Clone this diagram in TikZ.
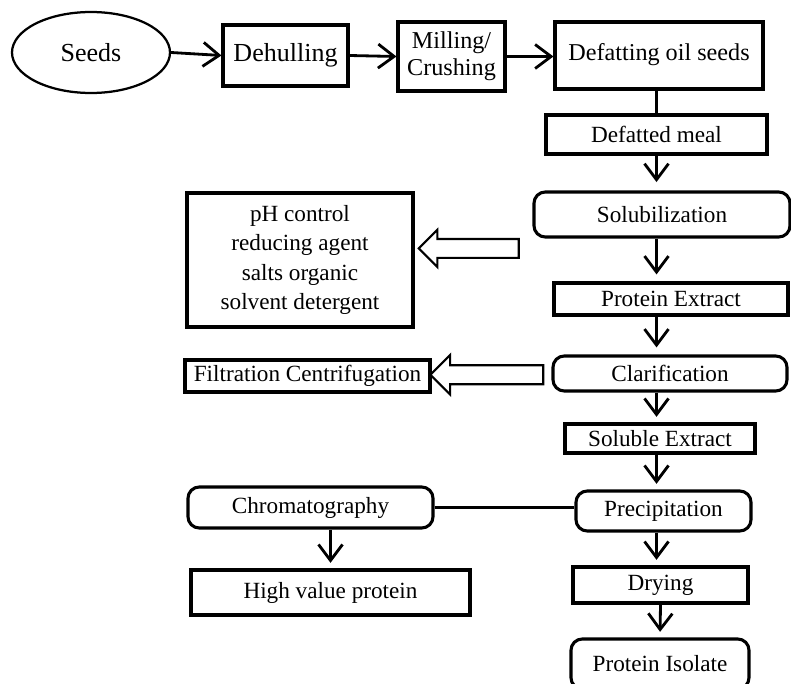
\documentclass[tikz,border=0pt]{standalone}
\usepackage{fontspec}
\setmainfont{Liberation Serif}
\usetikzlibrary{arrows.meta,positioning,shapes.geometric,shapes.arrows,calc}

\begin{document}
\begin{tikzpicture}[
  box/.style={draw, line width=2.2pt, inner sep=2pt, align=center, font=\fontsize{16.5}{21}\selectfont},
  rbox/.style={box, rounded corners=8pt},
  bigtext/.style={font=\fontsize{18.5}{20}\selectfont},
  flow/.style={-{Straight Barb[length=0.4cm,width=0.6cm]}, line width=2pt},
  hollow/.style={draw, line width=1.5pt, single arrow, shape border rotate=180, inner xsep=0pt}
]
  \useasboundingbox (0,0) rectangle (19.775,17.075);

  % Top row
  \node[box, bigtext, ellipse, line width=1.6pt, minimum width=3.95cm, minimum height=2.025cm] (seeds) at (2.275,15.7625) {Seeds};
  \node[box, bigtext, minimum width=3.125cm, minimum height=1.525cm] (dehull) at (7.1375,15.6875) {Dehulling};
  \node[box, font=\fontsize{17.2}{19}\selectfont, minimum width=2.675cm, minimum height=1.725cm] (mill) at (11.2875,15.6625) {Milling/\\Crushing};
  \node[box, font=\fontsize{17.2}{19}\selectfont, minimum width=5.2cm, minimum height=1.675cm] (defat) at (16.475,15.6875) {\raisebox{5pt}{Defatting oil seeds}};

  \draw[flow] (seeds.east) -- (dehull.west);
  \draw[flow] (dehull.east) -- (mill.west);
  \draw[flow] (mill.east) -- (defat.west |- mill.east);

  % Main column
  \node[box, minimum width=5.525cm, minimum height=0.975cm] (meal) at (16.4125,13.7125) {Defatted meal};
  \coordinate (spine) at (meal.south);
  \node[rbox, minimum width=6.4cm, minimum height=1.125cm] (solub) at (16.55,11.7125) {Solubilization};
  \node[box, minimum width=5.85cm, minimum height=0.8cm] (extract) at (16.775,9.6) {Protein Extract};
  \node[rbox, minimum width=5.85cm, minimum height=0.875cm] (clarif) at (16.75,7.7375) {Clarification};
  \node[box, minimum width=4.75cm, minimum height=0.725cm] (soluble) at (16.5,6.1125) {Soluble Extract};
  \node[rbox, minimum width=4.375cm, minimum height=1.0cm] (precip) at (16.5875,4.3) {Precipitation};
  \node[box, minimum width=4.375cm, minimum height=0.9cm] (drying) at (16.5125,2.45) {Drying};
  \node[rbox, minimum width=4.45cm, minimum height=1.25cm] (isolate) at (16.5,0.475) {Protein Isolate};

  \draw[line width=2pt] (defat.south -| spine) -- (meal.north -| spine);
  \draw[flow, shorten >=6pt] (meal.south) -- (solub.north -| spine);
  \draw[flow, shorten >=5pt] (solub.south -| spine) -- (extract.north -| spine);
  \draw[flow, shorten >=5pt] (extract.south -| spine) -- (clarif.north -| spine);
  \draw[flow, shorten >=4pt] (clarif.south -| spine) -- (soluble.north -| spine);
  \draw[flow, shorten >=4pt] (soluble.south -| spine) -- (precip.north -| spine);
  \draw[flow, shorten >=4pt] (precip.south -| spine) -- (drying.north -| spine);
  \draw[flow, shorten >=4pt] (drying.south) -- (isolate.north);

  % Side boxes
  \node[box, minimum width=5.65cm, minimum height=3.35cm] (ph) at (7.5,10.575) {pH control\\reducing agent\\salts organic\\solvent detergent};
  \node[box, minimum width=6.125cm, minimum height=0.8cm] (filt) at (7.6875,7.675) {Filtration Centrifugation};
  \node[rbox, minimum width=6.125cm, minimum height=1.025cm] (chrom) at (7.7625,4.3875) {Chromatography};
  \node[box, minimum width=6.975cm, minimum height=1.125cm] (hvp) at (8.2625,2.2625) {High value protein};

  % Hollow arrows
  \node[hollow, minimum height=2.5cm, inner ysep=0.21cm, single arrow head extend=0.23cm] (hol1) at ($(ph.east)!0.5!(solub.west)+(0,-0.28)$) {};
  \node[hollow, minimum height=2.825cm, inner ysep=0.21cm, single arrow head extend=0.26cm] (hol2) at ($(filt.east)!0.5!(clarif.west)$) {};

  \draw[line width=1.8pt] (chrom.east) -- (chrom.east -| precip.west);
  \draw[flow, shorten >=4pt] (chrom.south -| hvp.north) -- (hvp.north);
\end{tikzpicture}
\end{document}
